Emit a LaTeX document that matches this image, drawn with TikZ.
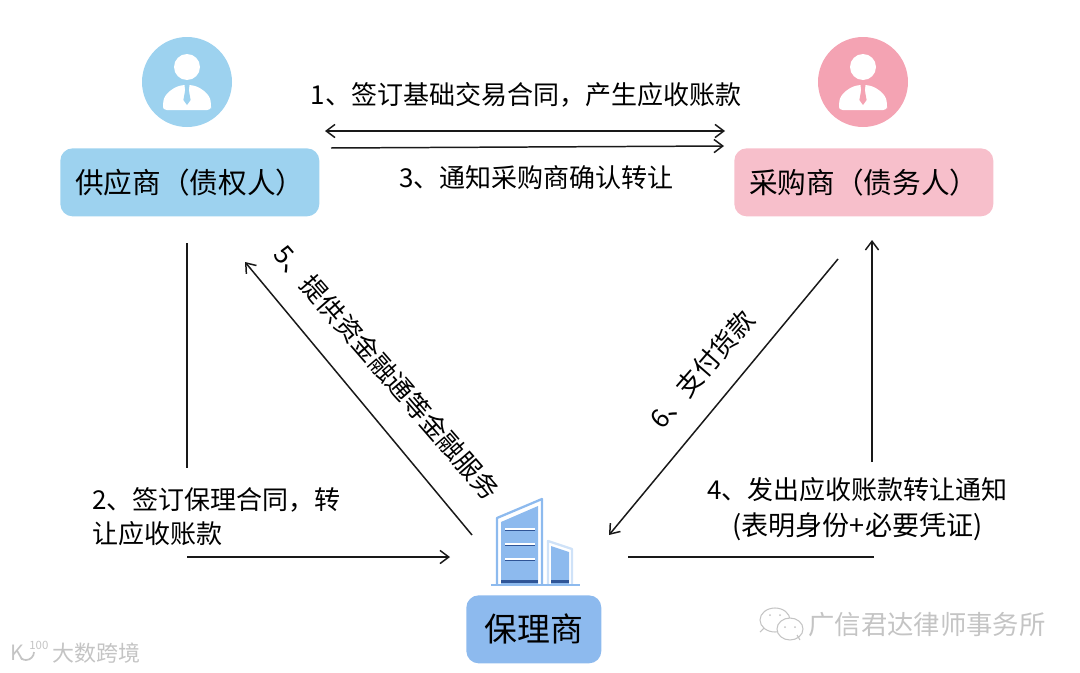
\documentclass[tikz,border=0pt]{standalone}
\usepackage{fontspec}
\setmainfont{Noto Sans CJK SC}
\usepackage{xcolor}
\usetikzlibrary{arrows.meta}
\definecolor{gysblue}{HTML}{9DD2EF}
\definecolor{cgsicon}{HTML}{F4A3B3}
\definecolor{cgspink}{HTML}{F7BFCB}
\definecolor{blqblue}{HTML}{8DBAEE}
\definecolor{blqdark}{HTML}{2F5597}
\definecolor{blqpale}{HTML}{CFE2F8}
\definecolor{wmgray}{HTML}{C4C4C4}
\tikzset{
	partybox/.style={rounded corners=7pt,minimum height=13.6mm,inner sep=0pt,text=black},
	flow/.style={line width=0.85pt,black!90,>={Straight Barb[length=5pt,width=7.5pt,line width=0.85pt]}},
	lbl/.style={font=\fontsize{14.8}{19.5}\selectfont,inner sep=0pt,text=black},
	wm/.style={inner sep=0pt,text=wmgray}
}
\def\personicon#1#2{
	\begin{scope}[shift={#1}]
		\fill[#2] (0,0) circle (45);
		\fill[white] (0,-15) circle (13);
		\fill[white,rounded corners=2pt] (-24,28)--(-24,23) .. controls (-23,12) and (-14,6) .. (-5,3)--(5,3) .. controls (14,6) and (23,12) .. (24,23)--(24,28)--cycle;
		\fill[#2] (-2.5,3)--(2.5,3)--(1.8,8)--(3.6,18)--(0,23)--(-3.6,18)--(-1.8,8)--cycle;
	\end{scope}
}
\begin{document}
\begin{tikzpicture}[x=0.02cm,y=-0.02cm]
	\useasboundingbox (0,0) rectangle (1080,673);
	\personicon{(187,82)}{gysblue}
	\personicon{(863,82)}{cgsicon}
	% three parties
	\node[partybox,fill=gysblue,minimum width=5.18cm,font=\fontsize{16.3}{20}\selectfont,anchor=north west] (gys) at (60,148) {供应商（债权人）};
	\node[partybox,fill=cgspink,minimum width=5.18cm,font=\fontsize{16.3}{20}\selectfont,anchor=north west] (cgs) at (734,148) {采购商（债务人）};
	\node[partybox,fill=blqblue,minimum width=2.7cm,font=\fontsize{18.7}{22}\selectfont,anchor=north west] (blq) at (466,595) {保理商};
	% building
	\draw[blqblue,line width=1.3pt,line join=round] (497,585)--(497,518)--(542,499)--(542,585);
	\fill[blqblue] (501,584)--(501,522)--(538,506)--(538,584)--cycle;
	\foreach \ya in {530,545,560}{
		\draw[white,line width=1pt] (505,\ya-0.8)--(535,\ya-0.8);
		\draw[blqdark,line width=0.6pt] (505,\ya+0.8)--(535,\ya+0.8);
	}
	\draw[blqpale,line width=1.3pt,line join=round] (548,585)--(548,541)--(572,549)--(572,585);
	\fill[blqblue] (551,584)--(551,546)--(569,552)--(569,584)--cycle;
	\fill[blqdark] (501,580)--(538,580)--(538,583)--(501,583)--cycle;
	\fill[blqdark] (551,580)--(569,580)--(569,583)--(551,583)--cycle;
	\draw[blqblue,line width=1.2pt] (491,585)--(580,585);
	% end points of the connectors
	\coordinate (a1) at (325,131);
	\coordinate (a2) at (725,131);
	\coordinate (b1) at (331,148);
	\coordinate (b2) at (724,146);
	\coordinate (c1) at (187,243);
	\coordinate (c2) at (187,468);
	\coordinate (c3) at (187,557);
	\coordinate (c4) at (450,557);
	\coordinate (d1) at (628,557);
	\coordinate (d2) at (874,557);
	\coordinate (d3) at (872,462);
	\coordinate (d4) at (872,240);
	\coordinate (e1) at (472,535);
	\coordinate (e2) at (245,262);
	\coordinate (f1) at (838,259);
	\coordinate (f2) at (609,535);
	\draw[flow,<->] (a1)--(a2);
	\draw[flow,->] (b1)--(b2);
	\draw[flow] (c1)--(c2);
	\draw[flow,->] (c3)--(c4);
	\draw[flow] (d1)--(d2);
	\draw[flow,->] (d3)--(d4);
	\draw[flow,->] (e1)--(e2);
	\draw[flow,->] (f1)--(f2);
	% labels
	\node[lbl] (l1) at (526,95) {1、签订基础交易合同，产生应收账款};
	\node[lbl] (l3) at (536.5,178) {3、通知采购商确认转让};
	\node[lbl,align=left,anchor=west] (l2) at (92,517) {2、签订保理合同，转\\让应收账款};
	\node[lbl] (l4a) at (857.5,490) {4、发出应收账款转让通知};
	\node[lbl,font=\fontsize{15.4}{19.5}\selectfont] (l4b) at (857.5,527) {(表明身份+必要凭证)};
	\node[lbl,rotate=-49] (l5) at (387,372) {5、提供资金融通等金融服务};
	\node[lbl,rotate=49] (l6) at (702,369) {6、支付货款};
	% watermarks
	\node[wm,font=\fontsize{15}{18}\selectfont,anchor=west] (wm1) at (808,625) {广信君达律师事务所};
	\node[wm,font=\fontsize{12.5}{15}\selectfont,anchor=west] (wm2) at (52,653) {大数跨境};
	\node[wm,font=\fontsize{12}{15}\selectfont,anchor=west] (wm3) at (10,653) {K};
	\node[wm,font=\fontsize{6.5}{8}\selectfont,anchor=west] (wm4) at (29,645) {100};
	\draw[wmgray,line width=1pt] (34,652) arc (0:130:8);
	\draw[wmgray,line width=0.6pt,fill=white] (760,632)--(764,628) (775,620) ellipse (15 and 12);
	\draw[wmgray,line width=0.6pt,fill=white] (800,640)--(797,635) (790,629) ellipse (13 and 11);
	\fill[wmgray] (770,615) circle (1) (780,615) circle (1) (785,627) circle (1) (795,627) circle (1);
\end{tikzpicture}
\end{document}
